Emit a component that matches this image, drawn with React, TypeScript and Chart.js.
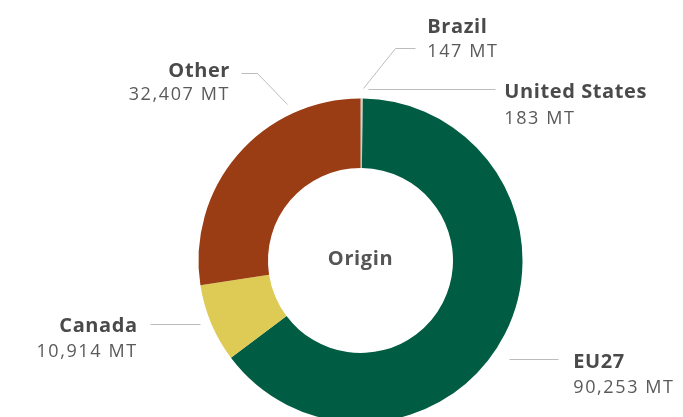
import React, { useEffect, useRef } from "react";
import { Chart, registerables } from "chart.js";

Chart.register(...registerables);

// Data (clockwise from 12 o'clock)
const categories = ["Brazil", "United States", "EU27", "Canada", "Other"];
const amountLabels = ["147 MT", "183 MT", "90,253 MT", "10,914 MT", "32,407 MT"];
// slice sizes as drawn in the picture
const sliceValues = [147, 183, 90253, 10914, 38400];
const sliceColors = ["#b9b9ad", "#c4c4b8", "#005c42", "#decb55", "#9a3d14"];
const centerTitle = "Origin";

// label layout, relative to the doughnut centre
type LabelLayout = {
  align: "left" | "right";
  x: number;
  nameY: number;
  valueY: number;
  line: [number, number][];
};
const labelLayout: LabelLayout[] = [
  { align: "left", x: 66.8, nameY: -227.2, valueY: -203.8, line: [[54.5, -212.2], [34.5, -212.2], [2.8, -172.2]] },
  { align: "left", x: 143.8, nameY: -163, valueY: -136.5, line: [[7.8, -171.2], [134.5, -171.2]] },
  { align: "left", x: 212.8, nameY: 107.2, valueY: 132.8, line: [[148.8, 98.5], [197.8, 98.5]] },
  { align: "right", x: -222.8, nameY: 71.8, valueY: 96.8, line: [[-210.5, 63.5], [-160.5, 63.5]] },
  { align: "right", x: -130.5, nameY: -183.8, valueY: -160.5, line: [[-119.8, -187.2], [-103.2, -187.2], [-73.8, -156.5]] },
];

const FONT = '"Open Sans", "DejaVu Sans", sans-serif';

const labelsPlugin = {
  id: "customLabels",
  afterDraw(chart: any) {
    const meta = chart.getDatasetMeta(0);
    const arc = meta.data[0];
    if (!arc) return;
    const cx = arc.x;
    const cy = arc.y;
    const ctx = chart.ctx as CanvasRenderingContext2D;
    ctx.save();
    // centre title
    ctx.fillStyle = "#555555";
    ctx.font = `700 20px ${FONT}`;
    (ctx as any).letterSpacing = "0.6px";
    ctx.textAlign = "center";
    ctx.textBaseline = "alphabetic";
    ctx.fillText(centerTitle, cx, cy + 4.5);

    categories.forEach((name, i) => {
      const l = labelLayout[i];
      // leader line
      ctx.beginPath();
      ctx.strokeStyle = "#bcbcbc";
      ctx.lineWidth = 1;
      l.line.forEach(([dx, dy], j) => {
        const px = Math.round(cx + dx) + 0.5;
        const py = Math.round(cy + dy) + 0.5;
        if (j === 0) ctx.moveTo(px, py);
        else ctx.lineTo(px, py);
      });
      ctx.stroke();
      // texts
      ctx.textAlign = l.align;
      ctx.fillStyle = "#4a4a4a";
      ctx.font = `700 20px ${FONT}`;
      (ctx as any).letterSpacing = "0.6px";
      ctx.fillText(name, cx + l.x, cy + l.nameY);
      ctx.fillStyle = "#5a5a5a";
      ctx.font = `400 18px ${FONT}`;
      (ctx as any).letterSpacing = "1.6px";
      ctx.fillText(amountLabels[i], cx + l.x, cy + l.valueY);
    });
    ctx.restore();
  },
};

export default function App() {
  const ref = useRef<HTMLCanvasElement | null>(null);
  useEffect(() => {
    if (!ref.current) return;
    const chart = new Chart(ref.current, {
      type: "doughnut",
      data: {
        labels: categories,
        datasets: [
          {
            data: sliceValues,
            backgroundColor: sliceColors,
            borderWidth: 0,
            hoverOffset: 0,
            clip: false as any,
          },
        ],
      },
      options: {
        animation: false,
        responsive: false,
        maintainAspectRatio: false,
        radius: 162,
        cutout: "57.1%",
        layout: { padding: { left: 38, top: 104, right: 0, bottom: 0 } },
        plugins: {
          legend: { display: false },
          tooltip: { enabled: false },
        },
        events: [],
      } as any,
      plugins: [labelsPlugin],
    });
    return () => chart.destroy();
  }, []);
  return (
    <div style={{ position: "absolute", left: 0, top: 0, width: 683, height: 417, background: "#fff" }}>
      <canvas ref={ref} width={683} height={417} style={{ display: "block", width: 683, height: 417 }} />
    </div>
  );
}
